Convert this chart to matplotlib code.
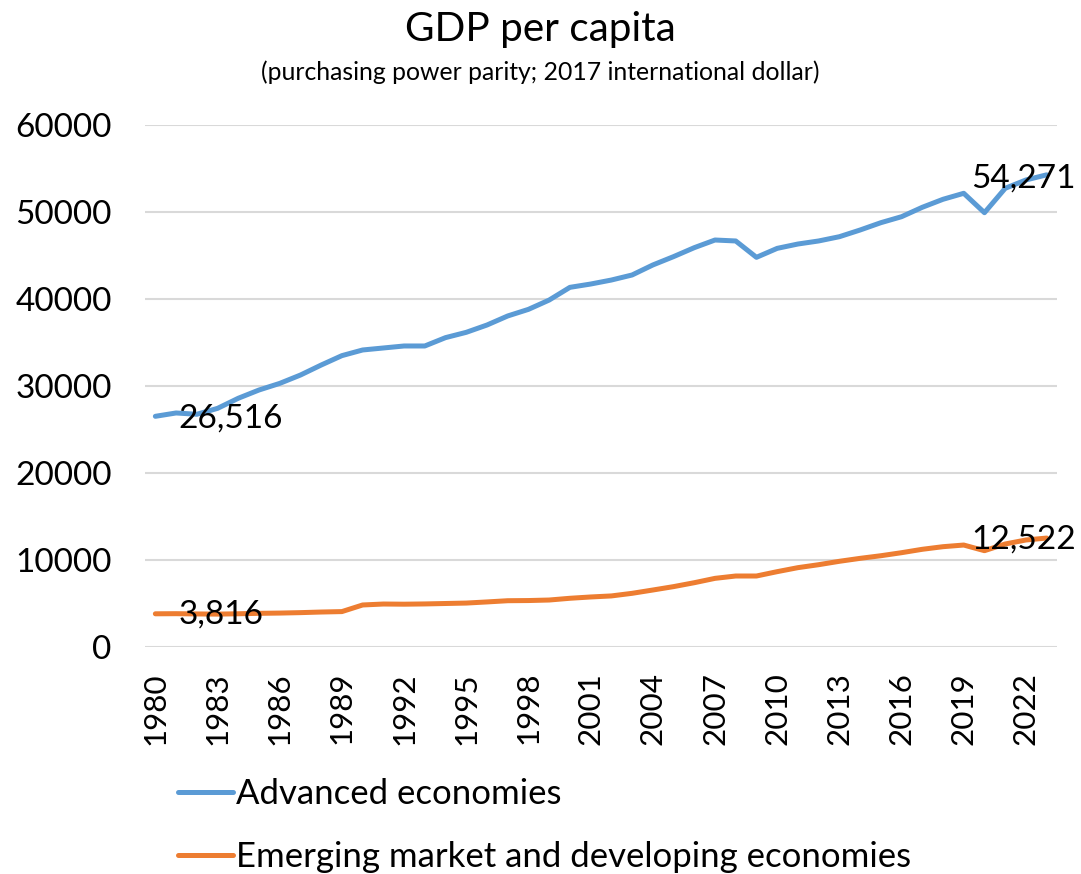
import matplotlib
matplotlib.use("Agg")
import matplotlib.pyplot as plt

years = list(range(1980, 2024))
advanced = [
    26516, 26900, 26750, 27430, 28590, 29540, 30300, 31260, 32410, 33490,
    34140, 34370, 34600, 34600, 35560, 36170, 37010, 38050, 38810, 39880,
    41340, 41720, 42180, 42760, 43910, 44870, 45900, 46780, 46670, 44790,
    45820, 46320, 46670, 47160, 47930, 48770, 49460, 50540, 51460, 52150,
    49920, 52720, 53680, 54271,
]
emerging = [
    3816, 3830, 3800, 3780, 3820, 3870, 3900, 3950, 4020, 4070,
    4830, 4940, 4920, 4950, 5000, 5050, 5180, 5320, 5340, 5400,
    5600, 5750, 5870, 6170, 6550, 6940, 7390, 7890, 8160, 8160,
    8660, 9120, 9460, 9850, 10190, 10490, 10840, 11230, 11530, 11720,
    11070, 11840, 12300, 12522,
]
series_names = ["Advanced economies", "Emerging market and developing economies"]
colors = ["#5B9BD5", "#ED7D31"]
yticks = [0, 10000, 20000, 30000, 40000, 50000, 60000]

plt.rcParams["font.family"] = ["Lato", "DejaVu Sans"]

fig = plt.figure(figsize=(10.81, 8.74), dpi=100)
ax = fig.add_axes([145 / 1081, 1 - 647 / 874, 912 / 1081, 522 / 874])

x = list(range(len(years)))
handles = []
for vals, name, c in zip([advanced, emerging], series_names, colors):
    (h,) = ax.plot(x, vals, color=c, lw=3.6, solid_capstyle="round",
                   solid_joinstyle="round", label=name)
    handles.append(h)

# data labels at first and last points
lab = dict(fontsize=24, color="black", textcoords="offset pixels", va="center")
ax.annotate(f"{advanced[0]:,}", (x[0], advanced[0]), xytext=(23, -2), ha="left", **lab)
ax.annotate(f"{emerging[0]:,}", (x[0], emerging[0]), xytext=(23, -1), ha="left", **lab)
ax.annotate(f"{advanced[-1]:,}", (x[-1], advanced[-1]), xytext=(29, -4), ha="right", **lab)
ax.annotate(f"{emerging[-1]:,}", (x[-1], emerging[-1]), xytext=(29, -1), ha="right", **lab)

ax.set_xlim(-0.5, len(years) - 0.5)
ax.set_ylim(0, 60000)
ax.set_yticks(yticks)
ax.set_yticklabels([str(v) for v in yticks], fontsize=24)
ax.set_xticks(x[::3])
ax.set_xticklabels([str(y) for y in years[::3]], rotation=90, fontsize=22.6)
ax.tick_params(axis="both", length=0)
ax.tick_params(axis="x", pad=18)
ax.tick_params(axis="y", pad=24)
for s in ax.spines.values():
    s.set_visible(False)
ax.grid(axis="y", color="#D9D9D9", lw=1.5)
ax.set_axisbelow(True)

fig.text(0.5, 1 - 29 / 874, "GDP per capita", ha="center", va="center", fontsize=29.2)
fig.text(0.5, 1 - 72 / 874, "(purchasing power parity; 2017 international dollar)",
         ha="center", va="center", fontsize=17.8)

fig.legend(handles=handles, loc="upper left", bbox_to_anchor=(178 / 1081, 1 - 778 / 874),
           frameon=False, fontsize=25, handlelength=1.58, handletextpad=0.08,
           labelspacing=0.9, borderpad=0, borderaxespad=0)

fig.savefig("out.png", dpi=100)
